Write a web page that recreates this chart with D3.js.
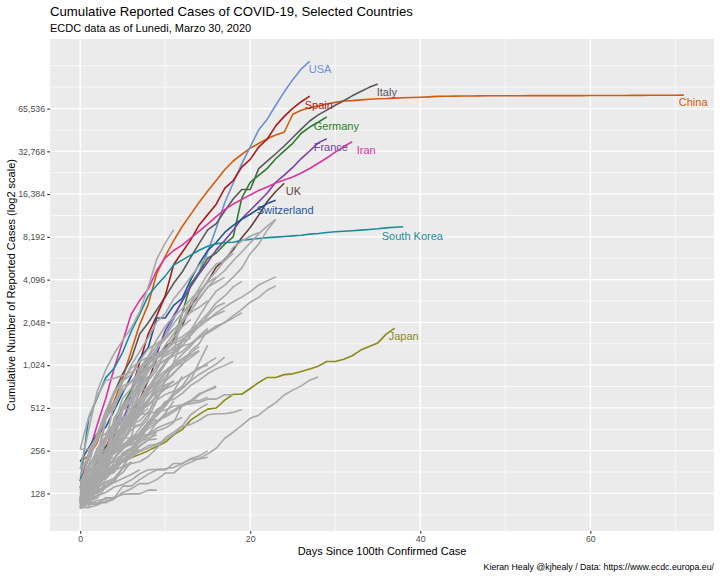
<!DOCTYPE html>
<html>
<head>
<meta charset="utf-8">
<script src="https://cdn.jsdelivr.net/npm/d3@7"></script>
<style>
  body { margin: 0; background: #fff; }
  svg { display: block; font-family: "Liberation Sans", Arial, Helvetica, sans-serif; }
</style>
</head>
<body>
<svg id="chart" width="720" height="576"></svg>
<script>
'use strict';

// ---- Data -------------------------------------------------------------------
// Cumulative reported cases, one value per day, starting at the 100th case.

// Highlighted countries.
const china = [216, 235, 291, 440, 571, 830, 1287, 1975, 2744, 4515, 5974, 7711, 9692, 11791,
  14380, 17205, 20438, 24324, 28018, 31161, 34546, 37198, 40171, 42638, 44653, 59804, 63851,
  66492, 68500, 70548, 72436, 74185, 74576, 75465, 76288, 76936, 77150, 77658, 78064, 78497,
  78824, 79251, 79824, 80026, 80151, 80270, 80409, 80552, 80651, 80695, 80735, 80754, 80778,
  80793, 80813, 80824, 80844, 80860, 80881, 80894, 80928, 80967, 81008, 81054, 81093, 81171,
  81218, 81285, 81340, 81394, 81439, 81470];
const usa = [103, 125, 159, 233, 338, 433, 554, 754, 1025, 1312, 1663, 2174, 2951, 3774, 4661,
  6427, 9415, 14250, 19624, 26747, 35206, 46442, 55231, 69194, 85991, 104686, 124686, 140904];
const italy = [155, 229, 322, 453, 655, 888, 1128, 1694, 2036, 2502, 3089, 3858, 4636, 5883,
  7375, 9172, 10149, 12462, 15113, 17660, 17660, 24747, 27980, 31506, 35713, 41035, 47021,
  53578, 59138, 63927, 69176, 74386, 80589, 86498, 92472, 97689];
const spain = [120, 165, 222, 259, 400, 500, 673, 1073, 1695, 2277, 3146, 5232, 6391, 7798,
  9942, 11748, 13910, 17963, 20410, 25374, 28768, 35136, 39885, 49515, 57786, 65719, 73235, 80110];
const germany = [117, 150, 188, 240, 349, 534, 684, 847, 1112, 1139, 1296, 1567, 2369, 3795,
  4585, 5795, 6300, 7272, 8200, 15320, 19848, 22213, 24873, 29056, 32986, 37323, 43938, 48582,
  52547, 57298];
const france = [100, 130, 191, 204, 288, 380, 656, 957, 1134, 1217, 1792, 2281, 2876, 3661,
  4499, 5423, 6633, 7730, 9134, 10995, 12612, 14459, 16689, 19856, 22304, 25233, 29155, 32964,
  37575, 40174];
const iran = [141, 245, 388, 593, 978, 1501, 2336, 2922, 3513, 4747, 5823, 6566, 7161, 8042,
  9000, 10075, 11364, 12729, 13938, 14991, 16169, 17361, 18407, 19644, 20610, 21638, 23049,
  24811, 27017, 29406, 32332, 35408, 38309];
const uk = [116, 164, 207, 274, 322, 384, 459, 590, 798, 1140, 1372, 1543, 1950, 2626, 3269,
  3983, 5018, 5683, 6650, 8077, 9529, 11658, 14543, 17089, 19522];
const switzerland = [214, 268, 337, 374, 491, 652, 858, 1139, 1359, 2200, 2200, 2700, 3028,
  4075, 5294, 6575, 7474, 8795, 9877, 10897, 11811, 12928, 14076, 14829];
const southKorea = [156, 433, 602, 833, 977, 1261, 1766, 2337, 3150, 3736, 4335, 5186, 5621,
  6088, 6593, 7041, 7314, 7478, 7513, 7755, 7869, 7979, 8086, 8162, 8236, 8320, 8413, 8565,
  8652, 8799, 8897, 8961, 9037, 9137, 9241, 9332, 9478, 9583, 9661];
const japan = [132, 144, 144, 170, 189, 214, 228, 241, 256, 274, 293, 331, 360, 420, 461, 502,
  511, 581, 639, 639, 701, 773, 839, 839, 878, 889, 924, 963, 1007, 1086, 1086, 1128, 1193,
  1307, 1387, 1468, 1693, 1866];

// Other countries (drawn in grey).
const netherlands = [128, 188, 265, 321, 382, 503, 503, 804, 959, 1135, 1413, 1705, 2051, 2460,
  2994, 3631, 4204, 4749, 5560, 6412, 7431, 8603, 9762, 10866];
const belgium = [109, 169, 200, 239, 267, 314, 314, 559, 689, 886, 1058, 1243, 1486, 1795, 2257,
  2815, 3401, 3743, 4269, 4937, 6235, 7284, 9134, 10836];
const austria = [104, 131, 182, 246, 302, 504, 655, 860, 1018, 1332, 1646, 2013, 2388, 2814,
  3582, 4474, 5283, 5588, 6909, 7657, 8271, 8788];
const turkey = [191, 359, 670, 947, 1236, 1529, 1872, 2433, 3629, 5698, 7402, 9217];
const norway = [108, 147, 176, 205, 400, 598, 702, 996, 1090, 1221, 1333, 1463, 1550, 1746,
  1914, 2118, 2385, 2621, 2863, 3084, 3369, 3755, 4015, 4284];
const sweden = [101, 161, 203, 248, 355, 500, 599, 814, 961, 1022, 1103, 1190, 1279, 1439, 1639,
  1763, 1934, 2046, 2286, 2526, 2840, 3069, 3447, 3700];
const denmark = [262, 442, 615, 801, 827, 864, 914, 977, 1057, 1151, 1255, 1326, 1395, 1450,
  1591, 1724, 1877, 2046, 2201, 2395];
const portugal = [169, 245, 331, 448, 642, 785, 1020, 1280, 1600, 2060, 2362, 2995, 3544, 4268,
  5170, 5962];
const brazil = [151, 151, 200, 234, 346, 529, 640, 970, 1178, 1546, 1924, 2247, 2554, 2985,
  3417, 3904, 4256];
const canada = [108, 117, 193, 198, 252, 415, 478, 657, 800, 943, 1277, 1469, 2088, 2790, 3251,
  4042, 4682, 5576, 6280];
const australia = [107, 128, 128, 200, 250, 297, 377, 452, 568, 681, 791, 1071, 1549, 1682,
  2044, 2364, 2810, 3143, 3640, 3984];
const israel = [109, 131, 193, 213, 298, 337, 433, 677, 705, 883, 1071, 1238, 2369, 2693, 3035,
  3619, 3938, 4247];
const malaysia = [149, 197, 238, 428, 566, 673, 790, 900, 1030, 1183, 1306, 1518, 1624, 1796,
  2031, 2161, 2320, 2470];
const ireland = [129, 169, 223, 292, 557, 683, 785, 906, 1125, 1329, 1564, 1819, 2121, 2415,
  2615, 2910];
const czechia = [116, 141, 189, 253, 298, 396, 464, 694, 833, 995, 1120, 1236, 1394, 1654, 1925,
  2279, 2631, 2817];
const luxembourg = [140, 203, 335, 484, 670, 798, 875, 1099, 1333, 1453, 1605, 1831, 1950];
const poland = [103, 119, 177, 238, 251, 355, 425, 536, 634, 749, 901, 1051, 1221, 1389, 1638,
  1862];
const chile = [155, 201, 238, 238, 434, 537, 632, 746, 922, 1142, 1306, 1610, 1909, 2139];
const ecuador = [111, 168, 199, 426, 532, 789, 981, 1082, 1173, 1403, 1595, 1823, 1924];
const finland = [109, 155, 156, 225, 244, 277, 321, 336, 400, 450, 523, 626, 700, 792, 880, 958,
  1041, 1167];
const greece = [190, 228, 331, 331, 387, 418, 418, 495, 530, 624, 695, 743, 821, 892, 966, 1061,
  1156];
const iceland = [103, 134, 156, 171, 180, 220, 250, 330, 409, 473, 568, 588, 648, 737, 802, 890,
  963, 1020, 1086];
const pakistan = [136, 236, 299, 454, 501, 730, 776, 875, 972, 1063, 1201, 1373, 1495, 1597];
const thailand = [114, 147, 177, 212, 272, 322, 411, 599, 721, 827, 934, 1045, 1136, 1245, 1388];
const romania = [123, 131, 158, 184, 260, 277, 308, 367, 433, 576, 794, 906, 1029, 1292, 1452,
  1815];
const saudiArabia = [103, 118, 171, 171, 274, 344, 392, 511, 562, 767, 900, 1012, 1104, 1203,
  1299];
const indonesia = [117, 134, 172, 227, 311, 369, 450, 514, 579, 686, 790, 893, 1046, 1155, 1285];
const india = [102, 113, 119, 142, 156, 194, 244, 330, 396, 499, 536, 657, 727, 887, 987, 1024];
const philippines = [111, 140, 142, 187, 202, 217, 230, 307, 380, 462, 552, 636, 707, 803, 1075,
  1418];
const singapore = [106, 108, 110, 110, 117, 130, 138, 150, 150, 160, 178, 178, 200, 212, 226,
  243, 266, 313, 345, 385, 432, 455, 509, 558, 631, 683, 732, 802, 844];
const qatar = [262, 262, 320, 337, 401, 439, 452, 460, 470, 481, 494, 526, 537, 549, 562, 590,
  590, 634, 634];
const slovenia = [141, 181, 219, 253, 275, 275, 286, 341, 383, 414, 442, 480, 528, 562, 632,
  684, 730];
const estonia = [115, 171, 205, 225, 258, 267, 283, 306, 326, 352, 369, 404, 538, 575, 645, 679,
  715];
const egypt = [110, 150, 196, 196, 256, 285, 294, 327, 366, 402, 456, 495, 536, 576, 576, 609];
const bahrain = [109, 189, 195, 210, 214, 214, 228, 256, 278, 285, 305, 334, 377, 392, 419, 458,
  466, 466, 476, 499];
const peru = [117, 145, 234, 234, 318, 363, 395, 416, 480, 580, 635, 671, 852];
const mexico = [118, 164, 203, 251, 316, 367, 405, 475, 585, 717, 848, 993];
const panama = [109, 137, 200, 313, 345, 345, 443, 558, 674, 786, 901, 989, 1075];
const russia = [114, 147, 199, 253, 306, 367, 438, 495, 658, 840, 1036, 1264, 1534];
const southAfrica = [116, 150, 202, 240, 274, 402, 554, 709, 927, 1170, 1187, 1280];
const iraq = [110, 116, 124, 154, 164, 192, 208, 214, 233, 266, 316, 346, 382, 458, 506, 547];
const lebanon = [120, 133, 157, 163, 187, 248, 267, 318, 333, 368, 391, 412, 438];
const kuwait = [104, 112, 123, 130, 142, 148, 159, 176, 188, 189, 191, 195, 208, 225, 235, 255];
const croatia = [105, 128, 206, 254, 315, 382, 442, 495, 586, 657, 713, 790];
const colombia = [102, 128, 196, 231, 277, 378, 470, 491, 539, 608, 702, 798];
const argentina = [128, 158, 266, 301, 387, 387, 502, 589, 690, 745, 820];
const serbia = [103, 135, 171, 222, 249, 303, 384, 384, 457, 659, 741, 785];
const uae = [113, 140, 140, 153, 153, 198, 248, 333, 333, 405, 468, 570];
const dominicanRep = [112, 202, 245, 312, 392, 488, 581, 719, 859];
const algeria = [139, 201, 230, 264, 302, 367, 409, 454, 511];
const armenia = [136, 160, 194, 235, 249, 265, 290, 329, 407, 424];
const hungary = [103, 131, 167, 187, 226, 261, 300, 343, 408];
const bulgaria = [127, 163, 187, 201, 218, 242, 264, 293, 331, 346];
const morocco = [115, 143, 170, 225, 275, 345, 402, 479];
const newZealand = [102, 102, 155, 205, 283, 368, 451, 514];
const taiwan = [108, 135, 153, 169, 195, 215, 235, 252, 267, 283, 298];
const costaRica = [117, 134, 158, 177, 201, 231, 263, 295, 314, 330];
const uruguay = [110, 110, 135, 162, 189, 217, 238, 274, 304, 310];
const sanMarino = [101, 109, 109, 119, 119, 144, 144, 160, 175, 187, 187, 208, 208, 223, 224, 230];
const ukraine = [113, 145, 196, 310, 356, 475];
const vietnam = [113, 123, 134, 141, 153, 163, 174, 188];
const bosnia = [126, 136, 166, 176, 191, 237, 258, 323, 368];
const northMacedonia = [114, 136, 148, 177, 201, 219, 241, 259];
const tunisia = [114, 173, 197, 227, 227, 278, 312, 312];
const lithuania = [131, 143, 179, 209, 274, 299, 358, 394];
const latvia = [111, 124, 139, 180, 197, 221, 244, 280, 305, 347];
const andorra = [113, 133, 164, 188, 224, 267, 308, 334, 370];
const jordan = [112, 127, 154, 172, 212, 235, 246, 259];
const cyprus = [116, 124, 132, 146, 162, 179, 214];
const moldova = [125, 149, 149, 177, 199, 231];
const albania = [104, 123, 146, 174, 186, 197, 212];
const brunei = [104, 109, 114, 117, 120, 126, 127, 127, 135, 135];
const sriLanka = [102, 102, 106, 113, 117];
const azerbaijan = [122, 165, 182, 209];
const senegal = [105, 119, 130, 142];
const venezuela = [106, 107, 107, 119, 119];

// Axis breaks.
const xBreaks = [0, 20, 40, 60];
const yBreaks = [128, 256, 512, 1024, 2048, 4096, 8192, 16384, 32768, 65536];

// ---- Series -----------------------------------------------------------------

// dx/dy: label nudge from the line end, in pixels.
const highlighted = [
  { name: 'China', values: china, color: '#D35C0C', dx: -5, dy: 7 },
  { name: 'USA', values: usa, color: '#6D8FD8', dx: -1, dy: 8 },
  { name: 'Italy', values: italy, color: '#595959', dx: -1, dy: 8 },
  { name: 'Spain', values: spain, color: '#A81B1B', dx: -5, dy: 9 },
  { name: 'Germany', values: germany, color: '#2A7F2A', dx: -13, dy: 9 },
  { name: 'France', values: france, color: '#7A3FA6', dx: -13, dy: 8 },
  { name: 'Iran', values: iran, color: '#D9349E', dx: 4.5, dy: 8 },
  { name: 'UK', values: uk, color: '#66403A', dx: 1.5, dy: 8 },
  { name: 'Switzerland', values: switzerland, color: '#1F5591', dx: -19, dy: 10 },
  { name: 'South Korea', values: southKorea, color: '#1A8C99', dx: -21.5, dy: 9 },
  { name: 'Japan', values: japan, color: '#8A8A16', dx: -6, dy: 8 },
];

const others = [netherlands, belgium, austria, turkey, norway, sweden, denmark, portugal, brazil,
  canada, australia, israel, malaysia, ireland, czechia, luxembourg, poland, chile, ecuador,
  finland, greece, iceland, pakistan, thailand, romania, saudiArabia, indonesia, india,
  philippines, singapore, qatar, slovenia, estonia, egypt, bahrain, peru, mexico, panama, russia,
  southAfrica, iraq, lebanon, kuwait, croatia, colombia, argentina, serbia, uae, dominicanRep,
  algeria, armenia, hungary, bulgaria, morocco, newZealand, taiwan, costaRica, uruguay, sanMarino,
  ukraine, vietnam, bosnia, northMacedonia, tunisia, lithuania, latvia, andorra, jordan, cyprus,
  moldova, albania, brunei, sriLanka, azerbaijan, senegal, venezuela];

const toPoints = values => values.map((v, i) => ({ day: i, cases: v }));

// ---- Layout -----------------------------------------------------------------

const panel = { left: 50, right: 714, top: 39, bottom: 531 };

const svg = d3.select('#chart');

// Scale limits follow ggplot's default 5% expansion.
const allSeries = highlighted.map(d => d.values).concat(others);
const maxDay = d3.max(allSeries, s => s.length - 1);
const xPad = maxDay * 0.05;
const logMin = Math.log2(d3.min(allSeries, s => d3.min(s)));
const logMax = Math.log2(d3.max(allSeries, s => d3.max(s)));
const yPad = (logMax - logMin) * 0.05;

const x = d3.scaleLinear()
  .domain([-xPad, maxDay + xPad])
  .range([panel.left, panel.right]);

const y = d3.scaleLog().base(2)
  .domain([Math.pow(2, logMin - yPad), Math.pow(2, logMax + yPad)])
  .range([panel.bottom, panel.top]);

// ---- Panel and grid ---------------------------------------------------------

svg.append('rect')
  .attr('x', panel.left).attr('y', panel.top)
  .attr('width', panel.right - panel.left)
  .attr('height', panel.bottom - panel.top)
  .attr('fill', '#EBEBEB');

const grid = svg.append('g').attr('stroke', '#fff').attr('fill', 'none');

// Minor breaks: midpoints between majors, extended one step past each end.
const yMinor = [];
for (let k = 6; k <= 17; k += 0.5) {
  const v = Math.pow(2, k);
  if (!yBreaks.includes(v) && v >= y.domain()[0] && v <= y.domain()[1]) yMinor.push(v);
}
const xMinor = [-10, 10, 30, 50, 70].filter(d => d >= x.domain()[0] && d <= x.domain()[1]);

grid.selectAll('.y-minor').data(yMinor).join('line')
  .attr('class', 'y-minor')
  .attr('x1', panel.left).attr('x2', panel.right)
  .attr('y1', d => y(d)).attr('y2', d => y(d))
  .attr('stroke-width', 0.7);

grid.selectAll('.x-minor').data(xMinor).join('line')
  .attr('class', 'x-minor')
  .attr('y1', panel.top).attr('y2', panel.bottom)
  .attr('x1', d => x(d)).attr('x2', d => x(d))
  .attr('stroke-width', 0.7);

grid.selectAll('.y-major').data(yBreaks).join('line')
  .attr('class', 'y-major')
  .attr('x1', panel.left).attr('x2', panel.right)
  .attr('y1', d => y(d)).attr('y2', d => y(d))
  .attr('stroke-width', 1.4);

grid.selectAll('.x-major').data(xBreaks).join('line')
  .attr('class', 'x-major')
  .attr('y1', panel.top).attr('y2', panel.bottom)
  .attr('x1', d => x(d)).attr('x2', d => x(d))
  .attr('stroke-width', 1.4);

// ---- Lines ------------------------------------------------------------------

const line = d3.line()
  .x(d => x(d.day))
  .y(d => y(d.cases));

const lines = svg.append('g').attr('fill', 'none')
  .attr('stroke-linejoin', 'round').attr('stroke-linecap', 'butt');

lines.selectAll('.hl').data(highlighted).join('path')
  .attr('class', 'hl')
  .attr('d', d => line(toPoints(d.values)))
  .attr('stroke', d => d.color)
  .attr('stroke-width', 1.6);

// Grey countries end up on top of the coloured ones, as in the original.
lines.selectAll('.other').data(others).join('path')
  .attr('class', 'other')
  .attr('d', d => line(toPoints(d)))
  .attr('stroke', '#A8A8A8')
  .attr('stroke-width', 1.6);

// ---- End labels -------------------------------------------------------------

svg.append('g').selectAll('text').data(highlighted).join('text')
  .attr('x', d => x(d.values.length - 1) + d.dx)
  .attr('y', d => y(d.values[d.values.length - 1]) + d.dy)
  .attr('dy', '0.35em')
  .attr('fill', d => d.color)
  .attr('font-size', 11)
  .text(d => d.name);

// ---- Axes -------------------------------------------------------------------

const yAxis = svg.append('g')
  .attr('transform', `translate(${panel.left},0)`)
  .call(d3.axisLeft(y).tickValues(yBreaks).tickFormat(d3.format(',')).tickSize(2.75).tickPadding(2.2));

const xAxis = svg.append('g')
  .attr('transform', `translate(0,${panel.bottom})`)
  .call(d3.axisBottom(x).tickValues(xBreaks).tickSize(2.75).tickPadding(2.2));

[yAxis, xAxis].forEach(ax => {
  ax.select('.domain').remove();
  ax.selectAll('.tick line').attr('stroke', '#333333').attr('stroke-width', 1.1);
  ax.selectAll('.tick text')
    .attr('fill', '#4D4D4D')
    .attr('font-size', 8.8)
    .attr('font-family', '"Liberation Sans", Arial, Helvetica, sans-serif');
});

// ---- Titles -----------------------------------------------------------------

svg.append('text')
  .attr('x', panel.left).attr('y', 16)
  .attr('font-size', 13.2).attr('fill', '#000')
  .text('Cumulative Reported Cases of COVID-19, Selected Countries');

svg.append('text')
  .attr('x', panel.left).attr('y', 32)
  .attr('font-size', 11).attr('fill', '#000')
  .text('ECDC data as of Lunedi, Marzo 30, 2020');

svg.append('text')
  .attr('x', (panel.left + panel.right) / 2).attr('y', 555)
  .attr('text-anchor', 'middle')
  .attr('font-size', 11).attr('fill', '#000')
  .text('Days Since 100th Confirmed Case');

svg.append('text')
  .attr('transform', `translate(15,${(panel.top + panel.bottom) / 2}) rotate(-90)`)
  .attr('text-anchor', 'middle')
  .attr('font-size', 11).attr('fill', '#000')
  .text('Cumulative Number of Reported Cases (log2 scale)');

svg.append('text')
  .attr('x', panel.right).attr('y', 570)
  .attr('text-anchor', 'end')
  .attr('font-size', 8.8).attr('fill', '#000')
  .text('Kieran Healy @kjhealy / Data: https://www.ecdc.europa.eu/');
</script>
</body>
</html>
